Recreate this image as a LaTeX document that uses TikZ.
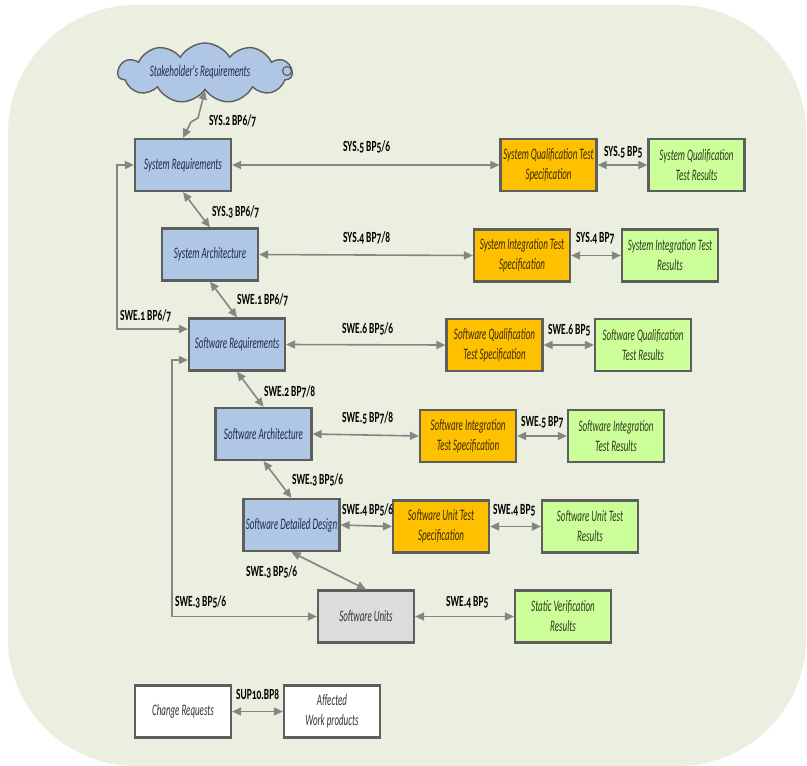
\documentclass[tikz,border=0pt]{standalone}
\usepackage{fontspec}
\newfontfamily\boxfont[FakeStretch=0.56,Numbers=OldStyle]{Carlito}
\newfontfamily\tagfont[FakeStretch=0.61,Numbers=OldStyle]{Carlito}
\usetikzlibrary{arrows.meta,shapes.symbols,shadows}

\definecolor{panelbg}{HTML}{EBEFDF}
\definecolor{edgegray}{HTML}{5E5E5E}
\definecolor{linkgray}{HTML}{858585}
\definecolor{reqblue}{HTML}{AFC7E5}
\definecolor{specorange}{HTML}{FFC000}
\definecolor{resgreen}{HTML}{CCFF99}
\definecolor{unitgray}{HTML}{DCDCDC}
\definecolor{reqtext}{HTML}{1C2B4A}
\definecolor{spectext}{HTML}{3A2A00}
\definecolor{restext}{HTML}{2A3A1C}

\tikzset{
  wp/.style={draw=edgegray, line width=2.2pt, minimum width=96pt, minimum height=52pt,
    inner sep=1pt, align=center, font=\boxfont\itshape\fontsize{16}{20}\selectfont,
    drop shadow={shadow xshift=0.6pt, shadow yshift=-1.2pt, fill=black, opacity=0.35}},
  reqbox/.style={wp, fill=reqblue, text=reqtext},
  specbox/.style={wp, fill=specorange, text=spectext},
  resbox/.style={wp, fill=resgreen, text=restext},
  unitbox/.style={wp, fill=unitgray, text=black!80},
  plainbox/.style={wp, fill=white, text=black!80},
  link/.style={draw=linkgray, line width=1.6pt,
    {Triangle[length=9pt,width=8pt]}-{Triangle[length=9pt,width=8pt]}},
  tag/.style={anchor=west, inner sep=0pt, text=black,
    font=\tagfont\bfseries\fontsize{15.5}{15.5}\selectfont},
}

\begin{document}
\begin{tikzpicture}[x=1pt,y=-1pt]
\useasboundingbox (0,0) rectangle (807,766);
\fill[white] (0,0) rectangle (807,766);
% rounded panel behind the diagram
\fill[panelbg, rounded corners=128pt] (8,5) rectangle (806,766);

% stakeholder cloud
\node[cloud, cloud puffs=11, cloud puff arc=120, cloud ignores aspect,
      minimum width=174pt, minimum height=60pt, fill=reqblue, draw=edgegray,
      line width=1.4pt, inner sep=0pt] (stake) at (205,73) {};
\node[text=reqtext, font=\boxfont\itshape\fontsize{16}{20}\selectfont] (staketxt) at (200,72) {Stakeholder's Requirements};
\draw[edgegray, line width=1.2pt, fill=reqblue] (287,71) circle (4.5);

% left column: requirements and design
\node[reqbox] (sysreq)  at (183,165)   {System Requirements};
\node[reqbox] (sysarch) at (210,254.5) {System Architecture};
\node[reqbox] (swreq)   at (237,344.5) {Software Requirements};
\node[reqbox] (swarch)  at (263.5,434) {Software Architecture};
\node[reqbox] (swdd)    at (291.5,525) {Software Detailed Design};
\node[unitbox] (swunits) at (366,616.5) {Software Units};

% test specifications
\node[specbox] (sqts)  at (548.5,165)  {System Qualification Test\\Specification};
\node[specbox] (sits)  at (522,255.5)  {System Integration Test\\Specification};
\node[specbox] (swqts) at (494.5,345)  {Software Qualification\\Test Specification};
\node[specbox] (swits) at (468,436)    {Software Integration\\Test Specification};
\node[specbox] (suts)  at (441,526.5)  {Software Unit Test\\Specification};

% test results
\node[resbox] (sqtr)  at (696.5,165)  {System Qualification\\Test Results};
\node[resbox] (sitr)  at (670,255.5)  {System Integration Test\\Results};
\node[resbox] (swqtr) at (643,345)    {Software Qualification\\Test Results};
\node[resbox] (switr) at (616,436)    {Software Integration\\Test Results};
\node[resbox] (sutr)  at (590,526.5)  {Software Unit Test\\Results};
\node[resbox] (svr)   at (563,616.5)  {Static Verification\\Results};

% change management
\node[plainbox] (cr)  at (183,711.5) {Change Requests};
\node[plainbox] (awp) at (332,711.5) {Affected\\Work products};

% helper coordinates for the feedback loops
\coordinate (loopa) at (117,329);
\coordinate (loopb) at (172,360);

% connectors down the left side
\draw[link] (sysreq.north) -- (191,122) -- (198,118) -- (stake.south);
\draw[link] (sysreq.south) -- (sysarch.north);
\draw[link] (sysarch.south) -- (swreq.north);
\draw[link] (swreq.south) -- (swarch.north);
\draw[link] (swarch.south) -- (swdd.north);
\draw[link] (swdd.south) -- (swunits.north);

% feedback loops
\draw[link] (sysreq.west) -| (loopa) -- (swreq.west |- loopa);
\draw[link] (swreq.west |- loopb) -- (loopb) |- (swunits.west);

% horizontal links
\draw[link] (sysreq.east)  -- (sqts.west);
\draw[link] (sqts.east)    -- (sqtr.west);
\draw[link] (sysarch.east) -- (sits.west);
\draw[link] (sits.east)    -- (sitr.west);
\draw[link] (swreq.east)   -- (swqts.west);
\draw[link] (swqts.east)   -- (swqtr.west);
\draw[link] (swarch.east)  -- (swits.west);
\draw[link] (swits.east)   -- (switr.west);
\draw[link] (swdd.east)    -- (suts.west);
\draw[link] (suts.east)    -- (sutr.west);
\draw[link] (swunits.east) -- (svr.west);
\draw[link] (cr.east)      -- (awp.west);

% base practice labels
\node[tag] (t1)  at (209,121) {SYS.2 BP6/7};
\node[tag] (t2)  at (212,212) {SYS.3 BP6/7};
\node[tag] (t3)  at (343,147) {SYS.5 BP5/6};
\node[tag] (t4)  at (604,152) {SYS.5 BP5};
\node[tag] (t5)  at (343,238) {SYS.4 BP7/8};
\node[tag] (t6)  at (576,238) {SYS.4 BP7};
\node[tag] (t7)  at (237,300) {SWE.1 BP6/7};
\node[tag] (t8)  at (120,316) {SWE.1 BP6/7};
\node[tag] (t9)  at (342,329) {SWE.6 BP5/6};
\node[tag] (t10) at (548,330) {SWE.6 BP5};
\node[tag] (t11) at (264,392) {SWE.2 BP7/8};
\node[tag] (t12) at (342,418) {SWE.5 BP7/8};
\node[tag] (t13) at (521,422) {SWE.5 BP7};
\node[tag] (t14) at (292,480) {SWE.3 BP5/6};
\node[tag] (t15) at (342,510) {SWE.4 BP5/6};
\node[tag] (t16) at (493,510) {SWE.4 BP5};
\node[tag] (t17) at (246,572) {SWE.3 BP5/6};
\node[tag] (t18) at (175,602) {SWE.3 BP5/6};
\node[tag] (t19) at (446,602) {SWE.4 BP5};
\node[tag] (t20) at (236,694) {SUP10.BP8};
\end{tikzpicture}
\end{document}
